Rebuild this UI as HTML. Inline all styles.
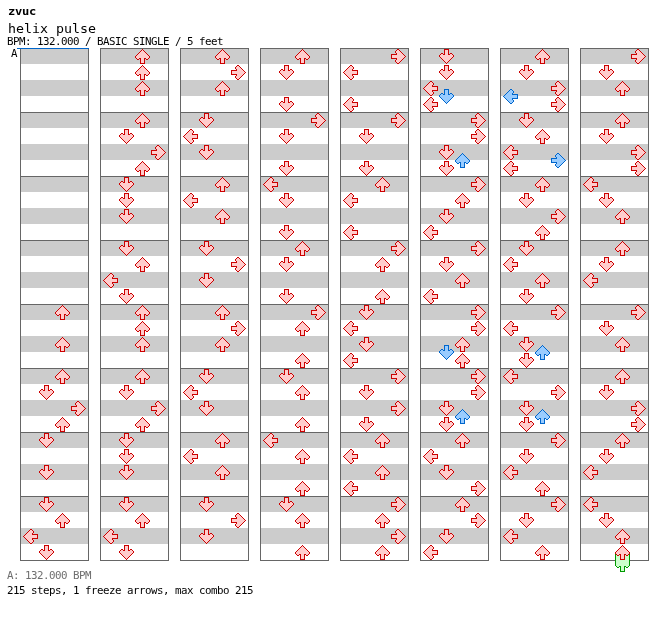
<!DOCTYPE html>
<html lang="en">
<head>
<meta charset="utf-8">
<title>zvuc - helix pulse</title>
<style>
html,body{margin:0;padding:0;background:#fff;}
body{width:672px;height:620px;position:relative;overflow:hidden;font-family:"DejaVu Sans Mono","Liberation Mono",monospace;color:#000;}
.t{position:absolute;white-space:pre;margin:0;padding:0;line-height:1;transform-origin:0 0;}
.s{font-size:10px;letter-spacing:-0.4644px;transform:scaleX(1.08);}
#artist{left:7.5px;top:6px;font-size:11px;font-weight:bold;letter-spacing:-0.26px;transform:scaleX(1.1);}
#title{left:8px;top:22px;font-size:13px;transform:scaleX(1.0222);}
#info{left:7.4px;top:37px;}
#lbl{left:11.4px;top:49px;}
#bpm{left:7.4px;top:571px;color:#6e6e6e;}
#stats{left:7.4px;top:586px;}
</style>
</head>
<body>
<svg width="672" height="620" viewBox="0 0 672 620" shape-rendering="crispEdges" style="position:absolute;left:0;top:0">
<defs><g id="rL"><path fill="#ffcccc" d="M7 1h2v1h-2zM6 2h4v1h-4zM5 3h5v1h-5zM4 4h5v1h-5zM3 5h6v1h-6zM2 6h12v1h-12zM1 7h13v1h-13zM2 8h12v1h-12zM3 9h6v1h-6zM4 10h5v1h-5zM5 11h5v1h-5zM6 12h4v1h-4zM7 13h2v1h-2z"/><path fill="#cc0000" d="M7 0h2v1h-2zM6 1h1v1h-1zM9 1h1v1h-1zM5 2h1v1h-1zM10 2h1v1h-1zM4 3h1v1h-1zM10 3h1v1h-1zM3 4h1v1h-1zM9 4h1v1h-1zM2 5h1v1h-1zM9 5h6v1h-6zM1 6h1v1h-1zM14 6h1v1h-1zM0 7h1v1h-1zM14 7h1v1h-1zM1 8h1v1h-1zM14 8h1v1h-1zM2 9h1v1h-1zM9 9h6v1h-6zM3 10h1v1h-1zM9 10h1v1h-1zM4 11h1v1h-1zM10 11h1v1h-1zM5 12h1v1h-1zM10 12h1v1h-1zM6 13h1v1h-1zM9 13h1v1h-1zM7 14h2v1h-2z"/></g><g id="bL"><path fill="#99ccff" d="M7 1h2v1h-2zM6 2h4v1h-4zM5 3h5v1h-5zM4 4h5v1h-5zM3 5h6v1h-6zM2 6h12v1h-12zM1 7h13v1h-13zM2 8h12v1h-12zM3 9h6v1h-6zM4 10h5v1h-5zM5 11h5v1h-5zM6 12h4v1h-4zM7 13h2v1h-2z"/><path fill="#0066cc" d="M7 0h2v1h-2zM6 1h1v1h-1zM9 1h1v1h-1zM5 2h1v1h-1zM10 2h1v1h-1zM4 3h1v1h-1zM10 3h1v1h-1zM3 4h1v1h-1zM9 4h1v1h-1zM2 5h1v1h-1zM9 5h6v1h-6zM1 6h1v1h-1zM14 6h1v1h-1zM0 7h1v1h-1zM14 7h1v1h-1zM1 8h1v1h-1zM14 8h1v1h-1zM2 9h1v1h-1zM9 9h6v1h-6zM3 10h1v1h-1zM9 10h1v1h-1zM4 11h1v1h-1zM10 11h1v1h-1zM5 12h1v1h-1zM10 12h1v1h-1zM6 13h1v1h-1zM9 13h1v1h-1zM7 14h2v1h-2z"/></g><g id="rD"><path fill="#ffcccc" d="M6 1h3v1h-3zM6 2h3v1h-3zM6 3h3v1h-3zM6 4h3v1h-3zM2 5h2v1h-2zM6 5h3v1h-3zM11 5h2v1h-2zM1 6h13v1h-13zM1 7h13v1h-13zM2 8h11v1h-11zM3 9h9v1h-9zM4 10h7v1h-7zM5 11h5v1h-5zM6 12h3v1h-3zM7 13h1v1h-1z"/><path fill="#cc0000" d="M5 0h5v1h-5zM5 1h1v1h-1zM9 1h1v1h-1zM5 2h1v1h-1zM9 2h1v1h-1zM5 3h1v1h-1zM9 3h1v1h-1zM2 4h2v1h-2zM5 4h1v1h-1zM9 4h1v1h-1zM11 4h2v1h-2zM1 5h1v1h-1zM4 5h2v1h-2zM9 5h2v1h-2zM13 5h1v1h-1zM0 6h1v1h-1zM14 6h1v1h-1zM0 7h1v1h-1zM14 7h1v1h-1zM1 8h1v1h-1zM13 8h1v1h-1zM2 9h1v1h-1zM12 9h1v1h-1zM3 10h1v1h-1zM11 10h1v1h-1zM4 11h1v1h-1zM10 11h1v1h-1zM5 12h1v1h-1zM9 12h1v1h-1zM6 13h1v1h-1zM8 13h1v1h-1zM7 14h1v1h-1z"/></g><g id="bD"><path fill="#99ccff" d="M6 1h3v1h-3zM6 2h3v1h-3zM6 3h3v1h-3zM6 4h3v1h-3zM2 5h2v1h-2zM6 5h3v1h-3zM11 5h2v1h-2zM1 6h13v1h-13zM1 7h13v1h-13zM2 8h11v1h-11zM3 9h9v1h-9zM4 10h7v1h-7zM5 11h5v1h-5zM6 12h3v1h-3zM7 13h1v1h-1z"/><path fill="#0066cc" d="M5 0h5v1h-5zM5 1h1v1h-1zM9 1h1v1h-1zM5 2h1v1h-1zM9 2h1v1h-1zM5 3h1v1h-1zM9 3h1v1h-1zM2 4h2v1h-2zM5 4h1v1h-1zM9 4h1v1h-1zM11 4h2v1h-2zM1 5h1v1h-1zM4 5h2v1h-2zM9 5h2v1h-2zM13 5h1v1h-1zM0 6h1v1h-1zM14 6h1v1h-1zM0 7h1v1h-1zM14 7h1v1h-1zM1 8h1v1h-1zM13 8h1v1h-1zM2 9h1v1h-1zM12 9h1v1h-1zM3 10h1v1h-1zM11 10h1v1h-1zM4 11h1v1h-1zM10 11h1v1h-1zM5 12h1v1h-1zM9 12h1v1h-1zM6 13h1v1h-1zM8 13h1v1h-1zM7 14h1v1h-1z"/></g><g id="rU"><path fill="#ffcccc" d="M7 1h1v1h-1zM6 2h3v1h-3zM5 3h5v1h-5zM4 4h7v1h-7zM3 5h9v1h-9zM2 6h11v1h-11zM1 7h13v1h-13zM1 8h13v1h-13zM2 9h2v1h-2zM6 9h3v1h-3zM11 9h2v1h-2zM6 10h3v1h-3zM6 11h3v1h-3zM6 12h3v1h-3zM6 13h3v1h-3z"/><path fill="#cc0000" d="M7 0h1v1h-1zM6 1h1v1h-1zM8 1h1v1h-1zM5 2h1v1h-1zM9 2h1v1h-1zM4 3h1v1h-1zM10 3h1v1h-1zM3 4h1v1h-1zM11 4h1v1h-1zM2 5h1v1h-1zM12 5h1v1h-1zM1 6h1v1h-1zM13 6h1v1h-1zM0 7h1v1h-1zM14 7h1v1h-1zM0 8h1v1h-1zM14 8h1v1h-1zM1 9h1v1h-1zM4 9h2v1h-2zM9 9h2v1h-2zM13 9h1v1h-1zM2 10h2v1h-2zM5 10h1v1h-1zM9 10h1v1h-1zM11 10h2v1h-2zM5 11h1v1h-1zM9 11h1v1h-1zM5 12h1v1h-1zM9 12h1v1h-1zM5 13h1v1h-1zM9 13h1v1h-1zM5 14h5v1h-5z"/></g><g id="bU"><path fill="#99ccff" d="M7 1h1v1h-1zM6 2h3v1h-3zM5 3h5v1h-5zM4 4h7v1h-7zM3 5h9v1h-9zM2 6h11v1h-11zM1 7h13v1h-13zM1 8h13v1h-13zM2 9h2v1h-2zM6 9h3v1h-3zM11 9h2v1h-2zM6 10h3v1h-3zM6 11h3v1h-3zM6 12h3v1h-3zM6 13h3v1h-3z"/><path fill="#0066cc" d="M7 0h1v1h-1zM6 1h1v1h-1zM8 1h1v1h-1zM5 2h1v1h-1zM9 2h1v1h-1zM4 3h1v1h-1zM10 3h1v1h-1zM3 4h1v1h-1zM11 4h1v1h-1zM2 5h1v1h-1zM12 5h1v1h-1zM1 6h1v1h-1zM13 6h1v1h-1zM0 7h1v1h-1zM14 7h1v1h-1zM0 8h1v1h-1zM14 8h1v1h-1zM1 9h1v1h-1zM4 9h2v1h-2zM9 9h2v1h-2zM13 9h1v1h-1zM2 10h2v1h-2zM5 10h1v1h-1zM9 10h1v1h-1zM11 10h2v1h-2zM5 11h1v1h-1zM9 11h1v1h-1zM5 12h1v1h-1zM9 12h1v1h-1zM5 13h1v1h-1zM9 13h1v1h-1zM5 14h5v1h-5z"/></g><g id="rR"><path fill="#ffcccc" d="M6 1h2v1h-2zM5 2h4v1h-4zM5 3h5v1h-5zM6 4h5v1h-5zM6 5h6v1h-6zM1 6h12v1h-12zM1 7h13v1h-13zM1 8h12v1h-12zM6 9h6v1h-6zM6 10h5v1h-5zM5 11h5v1h-5zM5 12h4v1h-4zM6 13h2v1h-2z"/><path fill="#cc0000" d="M6 0h2v1h-2zM5 1h1v1h-1zM8 1h1v1h-1zM4 2h1v1h-1zM9 2h1v1h-1zM4 3h1v1h-1zM10 3h1v1h-1zM5 4h1v1h-1zM11 4h1v1h-1zM0 5h6v1h-6zM12 5h1v1h-1zM0 6h1v1h-1zM13 6h1v1h-1zM0 7h1v1h-1zM14 7h1v1h-1zM0 8h1v1h-1zM13 8h1v1h-1zM0 9h6v1h-6zM12 9h1v1h-1zM5 10h1v1h-1zM11 10h1v1h-1zM4 11h1v1h-1zM10 11h1v1h-1zM4 12h1v1h-1zM9 12h1v1h-1zM5 13h1v1h-1zM8 13h1v1h-1zM6 14h2v1h-2z"/></g><g id="bR"><path fill="#99ccff" d="M6 1h2v1h-2zM5 2h4v1h-4zM5 3h5v1h-5zM6 4h5v1h-5zM6 5h6v1h-6zM1 6h12v1h-12zM1 7h13v1h-13zM1 8h12v1h-12zM6 9h6v1h-6zM6 10h5v1h-5zM5 11h5v1h-5zM5 12h4v1h-4zM6 13h2v1h-2z"/><path fill="#0066cc" d="M6 0h2v1h-2zM5 1h1v1h-1zM8 1h1v1h-1zM4 2h1v1h-1zM9 2h1v1h-1zM4 3h1v1h-1zM10 3h1v1h-1zM5 4h1v1h-1zM11 4h1v1h-1zM0 5h6v1h-6zM12 5h1v1h-1zM0 6h1v1h-1zM13 6h1v1h-1zM0 7h1v1h-1zM14 7h1v1h-1zM0 8h1v1h-1zM13 8h1v1h-1zM0 9h6v1h-6zM12 9h1v1h-1zM5 10h1v1h-1zM11 10h1v1h-1zM4 11h1v1h-1zM10 11h1v1h-1zM4 12h1v1h-1zM9 12h1v1h-1zM5 13h1v1h-1zM8 13h1v1h-1zM6 14h2v1h-2z"/></g><g id="gU"><path fill="#ccffcc" d="M1 8h13v1h-13zM2 9h2v1h-2zM6 9h3v1h-3zM11 9h2v1h-2zM6 10h3v1h-3zM6 11h3v1h-3zM6 12h3v1h-3zM6 13h3v1h-3z"/><path fill="#009900" d="M0 8h1v1h-1zM14 8h1v1h-1zM1 9h1v1h-1zM4 9h2v1h-2zM9 9h2v1h-2zM13 9h1v1h-1zM2 10h2v1h-2zM5 10h1v1h-1zM9 10h1v1h-1zM11 10h2v1h-2zM5 11h1v1h-1zM9 11h1v1h-1zM5 12h1v1h-1zM9 12h1v1h-1zM5 13h1v1h-1zM9 13h1v1h-1zM5 14h5v1h-5z"/></g></defs>
<rect x="21" y="48" width="68" height="16" fill="#cccccc"/>
<rect x="21" y="80" width="68" height="16" fill="#cccccc"/>
<rect x="21" y="112" width="68" height="16" fill="#cccccc"/>
<rect x="21" y="144" width="68" height="16" fill="#cccccc"/>
<rect x="21" y="176" width="68" height="16" fill="#cccccc"/>
<rect x="21" y="208" width="68" height="16" fill="#cccccc"/>
<rect x="21" y="240" width="68" height="16" fill="#cccccc"/>
<rect x="21" y="272" width="68" height="16" fill="#cccccc"/>
<rect x="21" y="304" width="68" height="16" fill="#cccccc"/>
<rect x="21" y="336" width="68" height="16" fill="#cccccc"/>
<rect x="21" y="368" width="68" height="16" fill="#cccccc"/>
<rect x="21" y="400" width="68" height="16" fill="#cccccc"/>
<rect x="21" y="432" width="68" height="16" fill="#cccccc"/>
<rect x="21" y="464" width="68" height="16" fill="#cccccc"/>
<rect x="21" y="496" width="68" height="16" fill="#cccccc"/>
<rect x="21" y="528" width="68" height="16" fill="#cccccc"/>
<rect x="20" y="48" width="1" height="513" fill="#666666"/>
<rect x="88" y="48" width="1" height="513" fill="#666666"/>
<rect x="20" y="48" width="69" height="1" fill="#666666"/>
<rect x="20" y="112" width="69" height="1" fill="#666666"/>
<rect x="20" y="176" width="69" height="1" fill="#666666"/>
<rect x="20" y="240" width="69" height="1" fill="#666666"/>
<rect x="20" y="304" width="69" height="1" fill="#666666"/>
<rect x="20" y="368" width="69" height="1" fill="#666666"/>
<rect x="20" y="432" width="69" height="1" fill="#666666"/>
<rect x="20" y="496" width="69" height="1" fill="#666666"/>
<rect x="20" y="560" width="69" height="1" fill="#666666"/>
<rect x="101" y="48" width="68" height="16" fill="#cccccc"/>
<rect x="101" y="80" width="68" height="16" fill="#cccccc"/>
<rect x="101" y="112" width="68" height="16" fill="#cccccc"/>
<rect x="101" y="144" width="68" height="16" fill="#cccccc"/>
<rect x="101" y="176" width="68" height="16" fill="#cccccc"/>
<rect x="101" y="208" width="68" height="16" fill="#cccccc"/>
<rect x="101" y="240" width="68" height="16" fill="#cccccc"/>
<rect x="101" y="272" width="68" height="16" fill="#cccccc"/>
<rect x="101" y="304" width="68" height="16" fill="#cccccc"/>
<rect x="101" y="336" width="68" height="16" fill="#cccccc"/>
<rect x="101" y="368" width="68" height="16" fill="#cccccc"/>
<rect x="101" y="400" width="68" height="16" fill="#cccccc"/>
<rect x="101" y="432" width="68" height="16" fill="#cccccc"/>
<rect x="101" y="464" width="68" height="16" fill="#cccccc"/>
<rect x="101" y="496" width="68" height="16" fill="#cccccc"/>
<rect x="101" y="528" width="68" height="16" fill="#cccccc"/>
<rect x="100" y="48" width="1" height="513" fill="#666666"/>
<rect x="168" y="48" width="1" height="513" fill="#666666"/>
<rect x="100" y="48" width="69" height="1" fill="#666666"/>
<rect x="100" y="112" width="69" height="1" fill="#666666"/>
<rect x="100" y="176" width="69" height="1" fill="#666666"/>
<rect x="100" y="240" width="69" height="1" fill="#666666"/>
<rect x="100" y="304" width="69" height="1" fill="#666666"/>
<rect x="100" y="368" width="69" height="1" fill="#666666"/>
<rect x="100" y="432" width="69" height="1" fill="#666666"/>
<rect x="100" y="496" width="69" height="1" fill="#666666"/>
<rect x="100" y="560" width="69" height="1" fill="#666666"/>
<rect x="181" y="48" width="68" height="16" fill="#cccccc"/>
<rect x="181" y="80" width="68" height="16" fill="#cccccc"/>
<rect x="181" y="112" width="68" height="16" fill="#cccccc"/>
<rect x="181" y="144" width="68" height="16" fill="#cccccc"/>
<rect x="181" y="176" width="68" height="16" fill="#cccccc"/>
<rect x="181" y="208" width="68" height="16" fill="#cccccc"/>
<rect x="181" y="240" width="68" height="16" fill="#cccccc"/>
<rect x="181" y="272" width="68" height="16" fill="#cccccc"/>
<rect x="181" y="304" width="68" height="16" fill="#cccccc"/>
<rect x="181" y="336" width="68" height="16" fill="#cccccc"/>
<rect x="181" y="368" width="68" height="16" fill="#cccccc"/>
<rect x="181" y="400" width="68" height="16" fill="#cccccc"/>
<rect x="181" y="432" width="68" height="16" fill="#cccccc"/>
<rect x="181" y="464" width="68" height="16" fill="#cccccc"/>
<rect x="181" y="496" width="68" height="16" fill="#cccccc"/>
<rect x="181" y="528" width="68" height="16" fill="#cccccc"/>
<rect x="180" y="48" width="1" height="513" fill="#666666"/>
<rect x="248" y="48" width="1" height="513" fill="#666666"/>
<rect x="180" y="48" width="69" height="1" fill="#666666"/>
<rect x="180" y="112" width="69" height="1" fill="#666666"/>
<rect x="180" y="176" width="69" height="1" fill="#666666"/>
<rect x="180" y="240" width="69" height="1" fill="#666666"/>
<rect x="180" y="304" width="69" height="1" fill="#666666"/>
<rect x="180" y="368" width="69" height="1" fill="#666666"/>
<rect x="180" y="432" width="69" height="1" fill="#666666"/>
<rect x="180" y="496" width="69" height="1" fill="#666666"/>
<rect x="180" y="560" width="69" height="1" fill="#666666"/>
<rect x="261" y="48" width="68" height="16" fill="#cccccc"/>
<rect x="261" y="80" width="68" height="16" fill="#cccccc"/>
<rect x="261" y="112" width="68" height="16" fill="#cccccc"/>
<rect x="261" y="144" width="68" height="16" fill="#cccccc"/>
<rect x="261" y="176" width="68" height="16" fill="#cccccc"/>
<rect x="261" y="208" width="68" height="16" fill="#cccccc"/>
<rect x="261" y="240" width="68" height="16" fill="#cccccc"/>
<rect x="261" y="272" width="68" height="16" fill="#cccccc"/>
<rect x="261" y="304" width="68" height="16" fill="#cccccc"/>
<rect x="261" y="336" width="68" height="16" fill="#cccccc"/>
<rect x="261" y="368" width="68" height="16" fill="#cccccc"/>
<rect x="261" y="400" width="68" height="16" fill="#cccccc"/>
<rect x="261" y="432" width="68" height="16" fill="#cccccc"/>
<rect x="261" y="464" width="68" height="16" fill="#cccccc"/>
<rect x="261" y="496" width="68" height="16" fill="#cccccc"/>
<rect x="261" y="528" width="68" height="16" fill="#cccccc"/>
<rect x="260" y="48" width="1" height="513" fill="#666666"/>
<rect x="328" y="48" width="1" height="513" fill="#666666"/>
<rect x="260" y="48" width="69" height="1" fill="#666666"/>
<rect x="260" y="112" width="69" height="1" fill="#666666"/>
<rect x="260" y="176" width="69" height="1" fill="#666666"/>
<rect x="260" y="240" width="69" height="1" fill="#666666"/>
<rect x="260" y="304" width="69" height="1" fill="#666666"/>
<rect x="260" y="368" width="69" height="1" fill="#666666"/>
<rect x="260" y="432" width="69" height="1" fill="#666666"/>
<rect x="260" y="496" width="69" height="1" fill="#666666"/>
<rect x="260" y="560" width="69" height="1" fill="#666666"/>
<rect x="341" y="48" width="68" height="16" fill="#cccccc"/>
<rect x="341" y="80" width="68" height="16" fill="#cccccc"/>
<rect x="341" y="112" width="68" height="16" fill="#cccccc"/>
<rect x="341" y="144" width="68" height="16" fill="#cccccc"/>
<rect x="341" y="176" width="68" height="16" fill="#cccccc"/>
<rect x="341" y="208" width="68" height="16" fill="#cccccc"/>
<rect x="341" y="240" width="68" height="16" fill="#cccccc"/>
<rect x="341" y="272" width="68" height="16" fill="#cccccc"/>
<rect x="341" y="304" width="68" height="16" fill="#cccccc"/>
<rect x="341" y="336" width="68" height="16" fill="#cccccc"/>
<rect x="341" y="368" width="68" height="16" fill="#cccccc"/>
<rect x="341" y="400" width="68" height="16" fill="#cccccc"/>
<rect x="341" y="432" width="68" height="16" fill="#cccccc"/>
<rect x="341" y="464" width="68" height="16" fill="#cccccc"/>
<rect x="341" y="496" width="68" height="16" fill="#cccccc"/>
<rect x="341" y="528" width="68" height="16" fill="#cccccc"/>
<rect x="340" y="48" width="1" height="513" fill="#666666"/>
<rect x="408" y="48" width="1" height="513" fill="#666666"/>
<rect x="340" y="48" width="69" height="1" fill="#666666"/>
<rect x="340" y="112" width="69" height="1" fill="#666666"/>
<rect x="340" y="176" width="69" height="1" fill="#666666"/>
<rect x="340" y="240" width="69" height="1" fill="#666666"/>
<rect x="340" y="304" width="69" height="1" fill="#666666"/>
<rect x="340" y="368" width="69" height="1" fill="#666666"/>
<rect x="340" y="432" width="69" height="1" fill="#666666"/>
<rect x="340" y="496" width="69" height="1" fill="#666666"/>
<rect x="340" y="560" width="69" height="1" fill="#666666"/>
<rect x="421" y="48" width="68" height="16" fill="#cccccc"/>
<rect x="421" y="80" width="68" height="16" fill="#cccccc"/>
<rect x="421" y="112" width="68" height="16" fill="#cccccc"/>
<rect x="421" y="144" width="68" height="16" fill="#cccccc"/>
<rect x="421" y="176" width="68" height="16" fill="#cccccc"/>
<rect x="421" y="208" width="68" height="16" fill="#cccccc"/>
<rect x="421" y="240" width="68" height="16" fill="#cccccc"/>
<rect x="421" y="272" width="68" height="16" fill="#cccccc"/>
<rect x="421" y="304" width="68" height="16" fill="#cccccc"/>
<rect x="421" y="336" width="68" height="16" fill="#cccccc"/>
<rect x="421" y="368" width="68" height="16" fill="#cccccc"/>
<rect x="421" y="400" width="68" height="16" fill="#cccccc"/>
<rect x="421" y="432" width="68" height="16" fill="#cccccc"/>
<rect x="421" y="464" width="68" height="16" fill="#cccccc"/>
<rect x="421" y="496" width="68" height="16" fill="#cccccc"/>
<rect x="421" y="528" width="68" height="16" fill="#cccccc"/>
<rect x="420" y="48" width="1" height="513" fill="#666666"/>
<rect x="488" y="48" width="1" height="513" fill="#666666"/>
<rect x="420" y="48" width="69" height="1" fill="#666666"/>
<rect x="420" y="112" width="69" height="1" fill="#666666"/>
<rect x="420" y="176" width="69" height="1" fill="#666666"/>
<rect x="420" y="240" width="69" height="1" fill="#666666"/>
<rect x="420" y="304" width="69" height="1" fill="#666666"/>
<rect x="420" y="368" width="69" height="1" fill="#666666"/>
<rect x="420" y="432" width="69" height="1" fill="#666666"/>
<rect x="420" y="496" width="69" height="1" fill="#666666"/>
<rect x="420" y="560" width="69" height="1" fill="#666666"/>
<rect x="501" y="48" width="68" height="16" fill="#cccccc"/>
<rect x="501" y="80" width="68" height="16" fill="#cccccc"/>
<rect x="501" y="112" width="68" height="16" fill="#cccccc"/>
<rect x="501" y="144" width="68" height="16" fill="#cccccc"/>
<rect x="501" y="176" width="68" height="16" fill="#cccccc"/>
<rect x="501" y="208" width="68" height="16" fill="#cccccc"/>
<rect x="501" y="240" width="68" height="16" fill="#cccccc"/>
<rect x="501" y="272" width="68" height="16" fill="#cccccc"/>
<rect x="501" y="304" width="68" height="16" fill="#cccccc"/>
<rect x="501" y="336" width="68" height="16" fill="#cccccc"/>
<rect x="501" y="368" width="68" height="16" fill="#cccccc"/>
<rect x="501" y="400" width="68" height="16" fill="#cccccc"/>
<rect x="501" y="432" width="68" height="16" fill="#cccccc"/>
<rect x="501" y="464" width="68" height="16" fill="#cccccc"/>
<rect x="501" y="496" width="68" height="16" fill="#cccccc"/>
<rect x="501" y="528" width="68" height="16" fill="#cccccc"/>
<rect x="500" y="48" width="1" height="513" fill="#666666"/>
<rect x="568" y="48" width="1" height="513" fill="#666666"/>
<rect x="500" y="48" width="69" height="1" fill="#666666"/>
<rect x="500" y="112" width="69" height="1" fill="#666666"/>
<rect x="500" y="176" width="69" height="1" fill="#666666"/>
<rect x="500" y="240" width="69" height="1" fill="#666666"/>
<rect x="500" y="304" width="69" height="1" fill="#666666"/>
<rect x="500" y="368" width="69" height="1" fill="#666666"/>
<rect x="500" y="432" width="69" height="1" fill="#666666"/>
<rect x="500" y="496" width="69" height="1" fill="#666666"/>
<rect x="500" y="560" width="69" height="1" fill="#666666"/>
<rect x="581" y="48" width="68" height="16" fill="#cccccc"/>
<rect x="581" y="80" width="68" height="16" fill="#cccccc"/>
<rect x="581" y="112" width="68" height="16" fill="#cccccc"/>
<rect x="581" y="144" width="68" height="16" fill="#cccccc"/>
<rect x="581" y="176" width="68" height="16" fill="#cccccc"/>
<rect x="581" y="208" width="68" height="16" fill="#cccccc"/>
<rect x="581" y="240" width="68" height="16" fill="#cccccc"/>
<rect x="581" y="272" width="68" height="16" fill="#cccccc"/>
<rect x="581" y="304" width="68" height="16" fill="#cccccc"/>
<rect x="581" y="336" width="68" height="16" fill="#cccccc"/>
<rect x="581" y="368" width="68" height="16" fill="#cccccc"/>
<rect x="581" y="400" width="68" height="16" fill="#cccccc"/>
<rect x="581" y="432" width="68" height="16" fill="#cccccc"/>
<rect x="581" y="464" width="68" height="16" fill="#cccccc"/>
<rect x="581" y="496" width="68" height="16" fill="#cccccc"/>
<rect x="581" y="528" width="68" height="16" fill="#cccccc"/>
<rect x="580" y="48" width="1" height="513" fill="#666666"/>
<rect x="648" y="48" width="1" height="513" fill="#666666"/>
<rect x="580" y="48" width="69" height="1" fill="#666666"/>
<rect x="580" y="112" width="69" height="1" fill="#666666"/>
<rect x="580" y="176" width="69" height="1" fill="#666666"/>
<rect x="580" y="240" width="69" height="1" fill="#666666"/>
<rect x="580" y="304" width="69" height="1" fill="#666666"/>
<rect x="580" y="368" width="69" height="1" fill="#666666"/>
<rect x="580" y="432" width="69" height="1" fill="#666666"/>
<rect x="580" y="496" width="69" height="1" fill="#666666"/>
<rect x="580" y="560" width="69" height="1" fill="#666666"/>
<rect x="17" y="48" width="72" height="1" fill="#0066cc"/>
<rect x="615" y="553" width="15" height="12" fill="#ccffcc"/>
<rect x="615" y="553" width="1" height="12" fill="#009900"/>
<rect x="629" y="553" width="1" height="12" fill="#009900"/>
<use href="#gU" x="615" y="557"/>
<use href="#rU" x="55" y="305"/>
<use href="#rU" x="55" y="337"/>
<use href="#rU" x="55" y="369"/>
<use href="#rD" x="39" y="385"/>
<use href="#rR" x="71" y="401"/>
<use href="#rU" x="55" y="417"/>
<use href="#rD" x="39" y="433"/>
<use href="#rD" x="39" y="465"/>
<use href="#rD" x="39" y="497"/>
<use href="#rU" x="55" y="513"/>
<use href="#rL" x="23" y="529"/>
<use href="#rD" x="39" y="545"/>
<use href="#rU" x="135" y="49"/>
<use href="#rU" x="135" y="65"/>
<use href="#rU" x="135" y="81"/>
<use href="#rU" x="135" y="113"/>
<use href="#rD" x="119" y="129"/>
<use href="#rR" x="151" y="145"/>
<use href="#rU" x="135" y="161"/>
<use href="#rD" x="119" y="177"/>
<use href="#rD" x="119" y="193"/>
<use href="#rD" x="119" y="209"/>
<use href="#rD" x="119" y="241"/>
<use href="#rU" x="135" y="257"/>
<use href="#rL" x="103" y="273"/>
<use href="#rD" x="119" y="289"/>
<use href="#rU" x="135" y="305"/>
<use href="#rU" x="135" y="321"/>
<use href="#rU" x="135" y="337"/>
<use href="#rU" x="135" y="369"/>
<use href="#rD" x="119" y="385"/>
<use href="#rR" x="151" y="401"/>
<use href="#rU" x="135" y="417"/>
<use href="#rD" x="119" y="433"/>
<use href="#rD" x="119" y="449"/>
<use href="#rD" x="119" y="465"/>
<use href="#rD" x="119" y="497"/>
<use href="#rU" x="135" y="513"/>
<use href="#rL" x="103" y="529"/>
<use href="#rD" x="119" y="545"/>
<use href="#rU" x="215" y="49"/>
<use href="#rR" x="231" y="65"/>
<use href="#rU" x="215" y="81"/>
<use href="#rD" x="199" y="113"/>
<use href="#rL" x="183" y="129"/>
<use href="#rD" x="199" y="145"/>
<use href="#rU" x="215" y="177"/>
<use href="#rL" x="183" y="193"/>
<use href="#rU" x="215" y="209"/>
<use href="#rD" x="199" y="241"/>
<use href="#rR" x="231" y="257"/>
<use href="#rD" x="199" y="273"/>
<use href="#rU" x="215" y="305"/>
<use href="#rR" x="231" y="321"/>
<use href="#rU" x="215" y="337"/>
<use href="#rD" x="199" y="369"/>
<use href="#rL" x="183" y="385"/>
<use href="#rD" x="199" y="401"/>
<use href="#rU" x="215" y="433"/>
<use href="#rL" x="183" y="449"/>
<use href="#rU" x="215" y="465"/>
<use href="#rD" x="199" y="497"/>
<use href="#rR" x="231" y="513"/>
<use href="#rD" x="199" y="529"/>
<use href="#rU" x="295" y="49"/>
<use href="#rD" x="279" y="65"/>
<use href="#rD" x="279" y="97"/>
<use href="#rR" x="311" y="113"/>
<use href="#rD" x="279" y="129"/>
<use href="#rD" x="279" y="161"/>
<use href="#rL" x="263" y="177"/>
<use href="#rD" x="279" y="193"/>
<use href="#rD" x="279" y="225"/>
<use href="#rU" x="295" y="241"/>
<use href="#rD" x="279" y="257"/>
<use href="#rD" x="279" y="289"/>
<use href="#rR" x="311" y="305"/>
<use href="#rU" x="295" y="321"/>
<use href="#rU" x="295" y="353"/>
<use href="#rD" x="279" y="369"/>
<use href="#rU" x="295" y="385"/>
<use href="#rU" x="295" y="417"/>
<use href="#rL" x="263" y="433"/>
<use href="#rU" x="295" y="449"/>
<use href="#rU" x="295" y="481"/>
<use href="#rD" x="279" y="497"/>
<use href="#rU" x="295" y="513"/>
<use href="#rU" x="295" y="545"/>
<use href="#rR" x="391" y="49"/>
<use href="#rL" x="343" y="65"/>
<use href="#rL" x="343" y="97"/>
<use href="#rR" x="391" y="113"/>
<use href="#rD" x="359" y="129"/>
<use href="#rD" x="359" y="161"/>
<use href="#rU" x="375" y="177"/>
<use href="#rL" x="343" y="193"/>
<use href="#rL" x="343" y="225"/>
<use href="#rR" x="391" y="241"/>
<use href="#rU" x="375" y="257"/>
<use href="#rU" x="375" y="289"/>
<use href="#rD" x="359" y="305"/>
<use href="#rL" x="343" y="321"/>
<use href="#rD" x="359" y="337"/>
<use href="#rL" x="343" y="353"/>
<use href="#rR" x="391" y="369"/>
<use href="#rD" x="359" y="385"/>
<use href="#rR" x="391" y="401"/>
<use href="#rD" x="359" y="417"/>
<use href="#rU" x="375" y="433"/>
<use href="#rL" x="343" y="449"/>
<use href="#rU" x="375" y="465"/>
<use href="#rL" x="343" y="481"/>
<use href="#rR" x="391" y="497"/>
<use href="#rU" x="375" y="513"/>
<use href="#rR" x="391" y="529"/>
<use href="#rU" x="375" y="545"/>
<use href="#rD" x="439" y="49"/>
<use href="#rD" x="439" y="65"/>
<use href="#rL" x="423" y="81"/>
<use href="#bD" x="439" y="89"/>
<use href="#rL" x="423" y="97"/>
<use href="#rR" x="471" y="113"/>
<use href="#rR" x="471" y="129"/>
<use href="#rD" x="439" y="145"/>
<use href="#bU" x="455" y="153"/>
<use href="#rD" x="439" y="161"/>
<use href="#rR" x="471" y="177"/>
<use href="#rU" x="455" y="193"/>
<use href="#rD" x="439" y="209"/>
<use href="#rL" x="423" y="225"/>
<use href="#rR" x="471" y="241"/>
<use href="#rD" x="439" y="257"/>
<use href="#rU" x="455" y="273"/>
<use href="#rL" x="423" y="289"/>
<use href="#rR" x="471" y="305"/>
<use href="#rR" x="471" y="321"/>
<use href="#rU" x="455" y="337"/>
<use href="#bD" x="439" y="345"/>
<use href="#rU" x="455" y="353"/>
<use href="#rR" x="471" y="369"/>
<use href="#rR" x="471" y="385"/>
<use href="#rD" x="439" y="401"/>
<use href="#bU" x="455" y="409"/>
<use href="#rD" x="439" y="417"/>
<use href="#rU" x="455" y="433"/>
<use href="#rL" x="423" y="449"/>
<use href="#rD" x="439" y="465"/>
<use href="#rR" x="471" y="481"/>
<use href="#rU" x="455" y="497"/>
<use href="#rR" x="471" y="513"/>
<use href="#rD" x="439" y="529"/>
<use href="#rL" x="423" y="545"/>
<use href="#rU" x="535" y="49"/>
<use href="#rD" x="519" y="65"/>
<use href="#rR" x="551" y="81"/>
<use href="#bL" x="503" y="89"/>
<use href="#rR" x="551" y="97"/>
<use href="#rD" x="519" y="113"/>
<use href="#rU" x="535" y="129"/>
<use href="#rL" x="503" y="145"/>
<use href="#bR" x="551" y="153"/>
<use href="#rL" x="503" y="161"/>
<use href="#rU" x="535" y="177"/>
<use href="#rD" x="519" y="193"/>
<use href="#rR" x="551" y="209"/>
<use href="#rU" x="535" y="225"/>
<use href="#rD" x="519" y="241"/>
<use href="#rL" x="503" y="257"/>
<use href="#rU" x="535" y="273"/>
<use href="#rD" x="519" y="289"/>
<use href="#rR" x="551" y="305"/>
<use href="#rL" x="503" y="321"/>
<use href="#rD" x="519" y="337"/>
<use href="#bU" x="535" y="345"/>
<use href="#rD" x="519" y="353"/>
<use href="#rL" x="503" y="369"/>
<use href="#rR" x="551" y="385"/>
<use href="#rD" x="519" y="401"/>
<use href="#bU" x="535" y="409"/>
<use href="#rD" x="519" y="417"/>
<use href="#rR" x="551" y="433"/>
<use href="#rD" x="519" y="449"/>
<use href="#rL" x="503" y="465"/>
<use href="#rU" x="535" y="481"/>
<use href="#rR" x="551" y="497"/>
<use href="#rD" x="519" y="513"/>
<use href="#rL" x="503" y="529"/>
<use href="#rU" x="535" y="545"/>
<use href="#rR" x="631" y="49"/>
<use href="#rD" x="599" y="65"/>
<use href="#rU" x="615" y="81"/>
<use href="#rU" x="615" y="113"/>
<use href="#rD" x="599" y="129"/>
<use href="#rR" x="631" y="145"/>
<use href="#rR" x="631" y="161"/>
<use href="#rL" x="583" y="177"/>
<use href="#rD" x="599" y="193"/>
<use href="#rU" x="615" y="209"/>
<use href="#rU" x="615" y="241"/>
<use href="#rD" x="599" y="257"/>
<use href="#rL" x="583" y="273"/>
<use href="#rR" x="631" y="305"/>
<use href="#rD" x="599" y="321"/>
<use href="#rU" x="615" y="337"/>
<use href="#rU" x="615" y="369"/>
<use href="#rD" x="599" y="385"/>
<use href="#rR" x="631" y="401"/>
<use href="#rR" x="631" y="417"/>
<use href="#rU" x="615" y="433"/>
<use href="#rD" x="599" y="449"/>
<use href="#rL" x="583" y="465"/>
<use href="#rL" x="583" y="497"/>
<use href="#rD" x="599" y="513"/>
<use href="#rU" x="615" y="529"/>
<use href="#rU" x="615" y="545"/>
</svg>
<div class="t" id="artist">zvuc</div>
<div class="t" id="title">helix pulse</div>
<div class="t s" id="info">BPM: 132.000 / BASIC SINGLE / 5 feet</div>
<div class="t s" id="lbl">A</div>
<div class="t s" id="bpm">A: 132.000 BPM</div>
<div class="t s" id="stats">215 steps, 1 freeze arrows, max combo 215</div>
</body>
</html>
